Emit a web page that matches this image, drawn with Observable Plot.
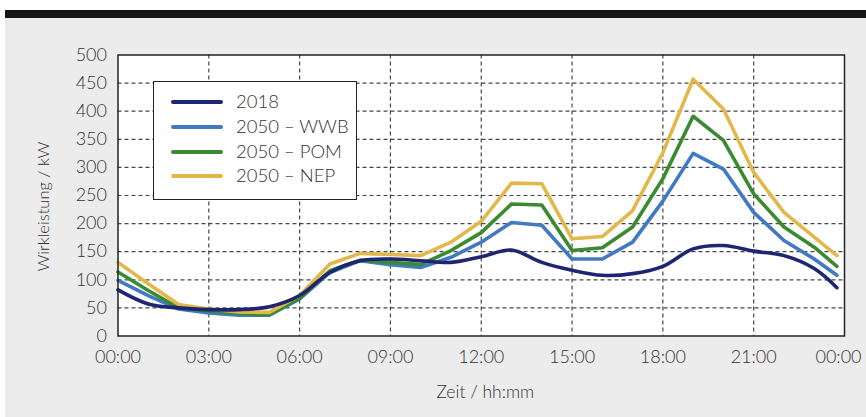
<!DOCTYPE html>
<html>
<head>
<meta charset="utf-8">
<script src="https://cdn.jsdelivr.net/npm/d3@7"></script>
<script src="https://cdn.jsdelivr.net/npm/@observablehq/plot@0.6"></script>
<style>
  html, body { margin: 0; padding: 0; background: #fff; }
  #wrap { position: relative; width: 866px; height: 417px; overflow: hidden; font-family: "Lato", "Open Sans", sans-serif; font-weight: 300; }
  #bg { position: absolute; left: 5px; top: 18px; width: 861px; height: 399px; background: #ececec; }
  #bar { position: absolute; left: 5px; top: 10px; width: 861px; height: 8px; background: #161616; }
  #chart { position: absolute; left: 0; top: 0; }
  #legend { position: absolute; left: 153px; top: 81px; width: 202px; height: 117px; background: #fff; border: 1.5px solid #222; }
  .row { position: absolute; left: 0; height: 20px; }
  .sw { position: absolute; left: 17px; width: 52px; height: 4px; border-radius: 2px; }
  .lab { position: absolute; left: 82px; font-size: 18.5px; color: #333; white-space: nowrap; line-height: 20px; top: -11px; }
</style>
</head>
<body>
<div id="wrap">
  <div id="bg"></div>
  <div id="bar"></div>
  <div id="chart"></div>
  <div id="legend"></div>
</div>
<script>
const hours = [0,1,2,3,4,5,6,7,8,9,10,11,12,13,14,15,16,17,18,19,20,21,22,23,23.75];
const seriesNames = ["2018", "2050 – WWB", "2050 – POM", "2050 – NEP"];
const colors = ["#1e2672", "#4179c4", "#3a8a2f", "#e2b84a"];
const s2018 = [82,57,50,47,47,52,72,113,134,137,134,131,141,153,131,117,108,111,124,155,161,151,143,120,86];
const sWWB  = [99,72,48,41,37,37,66,113,134,127,122,140,167,202,197,137,137,167,240,325,297,220,170,137,108];
const sPOM  = [114,81,50,45,40,38,67,116,135,131,127,152,184,235,233,152,157,194,280,391,348,253,194,158,124];
const sNEP  = [131,93,56,48,43,42,72,128,147,145,143,167,204,272,271,173,177,223,326,457,404,291,220,176,143];
const yTicks = [0,50,100,150,200,250,300,350,400,450,500];
const xTicks = [0,3,6,9,12,15,18,21,24];
const xTickLabels = ["00:00","03:00","06:00","09:00","12:00","15:00","18:00","21:00","00:00"];

const all = [s2018, sWWB, sPOM, sNEP];
const rows = [];
all.forEach((vals, si) => vals.forEach((v, i) => rows.push({series: seriesNames[si], h: hours[i], v})));

const font = '"Lato", "Open Sans", sans-serif';
const fmt = d => xTickLabels[xTicks.indexOf(d)];
const plot = Plot.plot({
  width: 866,
  height: 417,
  marginLeft: 117.5,
  marginRight: 22,
  marginTop: 54.5,
  marginBottom: 81.5,
  style: {background: "transparent", fontFamily: font, fontSize: "18px", fontWeight: 300, color: "#333"},
  x: {domain: [0, 24], ticks: xTicks, tickFormat: fmt, label: null},
  y: {domain: [0, 500], ticks: yTicks, label: null},
  color: {domain: seriesNames, range: colors},
  marks: [
    Plot.frame({fill: "#fff"}),
    Plot.gridY(yTicks.slice(1, -1), {stroke: "#333", strokeOpacity: 0.9, strokeDasharray: "4,3", strokeWidth: 1.2}),
    Plot.gridX(xTicks.slice(1, -1), {stroke: "#333", strokeOpacity: 0.9, strokeDasharray: "4,3", strokeWidth: 1.2}),
    Plot.line(rows.filter(d => d.series !== "2018"), {x: "h", y: "v", z: "series", stroke: "series", strokeWidth: 3.6, strokeLinejoin: "round"}),
    Plot.line(rows.filter(d => d.series === "2018"), {x: "h", y: "v", stroke: "series", strokeWidth: 3.6, curve: "catmull-rom"}),
    Plot.frame({stroke: "#222", strokeWidth: 1.5}),
    Plot.axisY(yTicks, {tickSize: 0, tickPadding: 11, fontSize: 18, label: null}),
    Plot.axisX(xTicks.slice(0, -1), {tickSize: 0, tickPadding: 14, fontSize: 18, tickFormat: fmt, label: null}),
    Plot.axisX(xTicks.slice(-1), {tickSize: 0, tickPadding: 14, fontSize: 18, tickFormat: fmt, label: null, dx: -6}),
    Plot.text(["Zeit / hh:mm"], {frameAnchor: "bottom", dx: 4, dy: 62, fontSize: 17.5, fill: "#333"}),
    Plot.text(["Wirkleistung / kW"], {frameAnchor: "left", textAnchor: "middle", dx: -74, dy: 11, rotate: -90, fontSize: 16.5, fill: "#333"})
  ]
});
document.getElementById("chart").appendChild(plot);

const legend = document.getElementById("legend");
seriesNames.forEach((name, i) => {
  const row = document.createElement("div");
  row.className = "row";
  row.style.top = (20 + i * 24.8) + "px";
  const sw = document.createElement("div");
  sw.className = "sw";
  sw.style.background = colors[i];
  sw.style.top = "-2px";
  const lab = document.createElement("div");
  lab.className = "lab";
  lab.textContent = name;
  row.appendChild(sw);
  row.appendChild(lab);
  legend.appendChild(row);
});
</script>
</body>
</html>
